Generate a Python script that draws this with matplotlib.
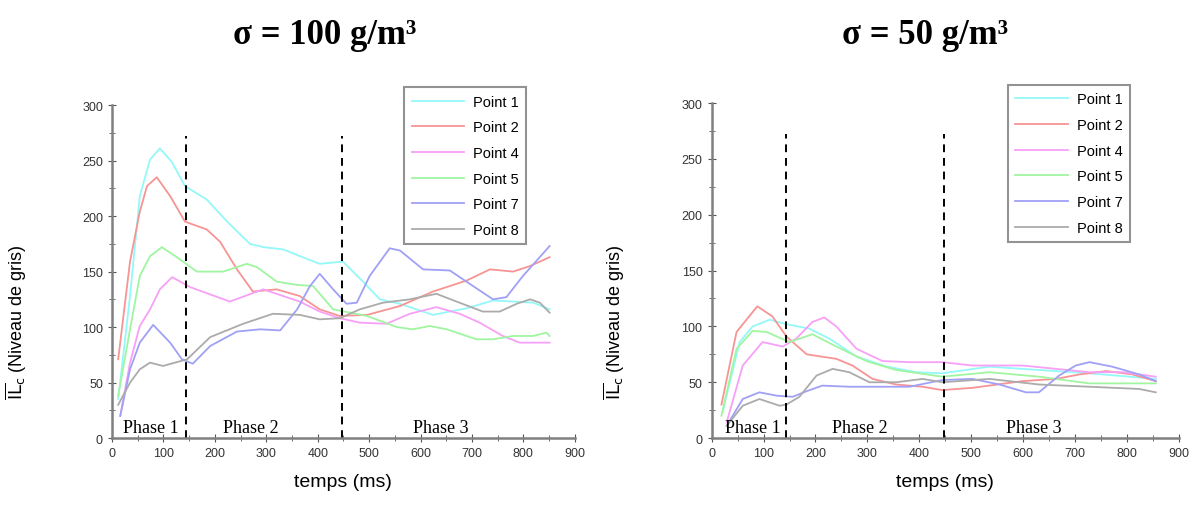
import matplotlib
matplotlib.use("Agg")
import matplotlib.pyplot as plt
from matplotlib.ticker import MultipleLocator

plt.rcParams["font.family"] = ["Liberation Sans", "DejaVu Sans"]

labels = ["Point 1", "Point 2", "Point 4", "Point 5", "Point 7", "Point 8"]
colors = ["#94f8f8", "#f79494", "#f7a0f7", "#a0f5a0", "#a0a0f7", "#ababab"]
titles = ["σ = 100 g/m³", "σ = 50 g/m³"]
phase_names = ["Phase 1", "Phase 2", "Phase 3"]

# sigma = 100 g/m3
t1_x = [12, 35, 54, 74, 93, 116, 142, 184, 224, 268, 295, 333, 365, 404, 449, 488, 521, 560, 624, 690, 741, 819, 851]
t1_y = [35, 128, 218, 251, 261, 249, 227, 215, 195, 175, 172, 170, 164, 157, 159, 141, 125, 121, 111, 117, 124, 122, 116]
t2_x = [12, 35, 54, 68, 87, 113, 142, 184, 210, 243, 274, 320, 365, 404, 443, 496, 560, 624, 690, 735, 780, 813, 851]
t2_y = [71, 159, 204, 227, 235, 218, 195, 188, 177, 152, 132, 134, 128, 116, 110, 111, 119, 132, 142, 152, 150, 155, 163]
t4_x = [16, 35, 54, 74, 93, 117, 152, 229, 294, 365, 404, 443, 482, 534, 579, 631, 676, 715, 760, 793, 851]
t4_y = [20, 68, 101, 116, 134, 145, 136, 123, 134, 123, 114, 108, 104, 103, 112, 118, 112, 104, 92, 86, 86]
t5_x = [12, 35, 54, 74, 97, 126, 165, 216, 262, 282, 320, 360, 391, 430, 496, 554, 585, 618, 651, 709, 741, 780, 819, 845, 851]
t5_y = [38, 98, 146, 164, 172, 163, 150, 150, 157, 154, 141, 138, 137, 116, 110, 100, 98, 101, 98, 89, 89, 92, 92, 95, 92]
t7_x = [16, 35, 54, 80, 113, 136, 157, 191, 243, 288, 327, 360, 385, 404, 430, 456, 476, 501, 540, 560, 605, 657, 702, 741, 767, 799, 851]
t7_y = [20, 62, 86, 102, 86, 71, 67, 83, 96, 98, 97, 116, 137, 148, 134, 121, 122, 146, 171, 169, 152, 151, 137, 125, 127, 146, 173]
t8_x = [12, 35, 54, 74, 99, 146, 191, 255, 313, 365, 404, 443, 482, 527, 579, 631, 670, 721, 754, 787, 813, 832, 851]
t8_y = [30, 50, 62, 68, 65, 71, 91, 103, 112, 111, 107, 108, 116, 122, 125, 130, 123, 114, 114, 121, 125, 122, 113]

# sigma = 50 g/m3
u1_x = [21, 54, 79, 112, 144, 188, 227, 279, 337, 394, 444, 535, 630, 727, 855]
u1_y = [23, 86, 100, 106, 102, 98, 89, 73, 64, 59, 58, 64, 61, 58, 53]
u2_x = [19, 48, 88, 117, 144, 183, 240, 271, 310, 355, 406, 444, 502, 598, 663, 708, 760, 810, 855]
u2_y = [30, 95, 118, 109, 91, 75, 71, 65, 53, 48, 46, 43, 45, 51, 53, 57, 60, 57, 51]
u4_x = [29, 60, 98, 137, 163, 194, 217, 240, 279, 329, 381, 444, 502, 598, 663, 727, 790, 855]
u4_y = [14, 65, 86, 82, 89, 104, 108, 100, 80, 69, 68, 68, 65, 65, 62, 59, 59, 55]
u5_x = [19, 48, 79, 106, 150, 194, 240, 298, 355, 444, 535, 630, 727, 855]
u5_y = [20, 80, 96, 95, 86, 93, 82, 69, 61, 55, 59, 55, 49, 49]
u7_x = [29, 60, 92, 125, 156, 183, 213, 265, 381, 444, 502, 554, 605, 630, 669, 701, 727, 771, 823, 855]
u7_y = [11, 35, 41, 38, 37, 42, 47, 46, 46, 52, 53, 48, 41, 41, 56, 65, 68, 64, 57, 51]
u8_x = [29, 60, 92, 131, 144, 169, 202, 233, 265, 304, 355, 406, 444, 535, 630, 727, 823, 855]
u8_y = [11, 29, 35, 29, 30, 37, 56, 62, 59, 50, 50, 53, 50, 53, 48, 46, 44, 41]

left_series = [(t1_x, t1_y), (t2_x, t2_y), (t4_x, t4_y), (t5_x, t5_y), (t7_x, t7_y), (t8_x, t8_y)]
right_series = [(u1_x, u1_y), (u2_x, u2_y), (u4_x, u4_y), (u5_x, u5_y), (u7_x, u7_y), (u8_x, u8_y)]

phase_bounds = [143, 447]
left_phase_x = [75, 270, 640]
right_phase_x = [80, 285, 620]

fig = plt.figure(figsize=(12.02, 5.10), dpi=100)
ax_l = fig.add_axes([0.0932, 0.139, 0.385, 0.653])
ax_r = fig.add_axes([0.592, 0.139, 0.389, 0.657])

for ax, series, title, px, tx in [(ax_l, left_series, titles[0], left_phase_x, 0.27),
                                   (ax_r, right_series, titles[1], right_phase_x, 0.77)]:
    for (x, y), c, lab in zip(series, colors, labels):
        ax.plot(x, y, color=c, lw=1.3, label=lab, solid_joinstyle="round")
    for b in phase_bounds:
        ax.plot([b, b], [0, 272], color="black", ls=(0, (4, 3)), lw=1.4)
    for name, xx in zip(phase_names, px):
        ax.text(xx, 2, name, ha="center", va="bottom", family="Liberation Serif", fontsize=13)
    ax.set_xlim(0, 900)
    ax.set_ylim(0, 300)
    ax.xaxis.set_major_locator(MultipleLocator(100))
    ax.xaxis.set_minor_locator(MultipleLocator(50))
    ax.yaxis.set_major_locator(MultipleLocator(50))
    ax.yaxis.set_minor_locator(MultipleLocator(25))
    for s in ["top", "right"]:
        ax.spines[s].set_visible(False)
    for s in ["left", "bottom"]:
        ax.spines[s].set_color("#808080")
        ax.spines[s].set_linewidth(1.8)
    ax.tick_params(which="both", direction="inout", color="#555555", labelsize=9, labelcolor="#333333")
    ax.tick_params(which="major", length=6)
    ax.tick_params(which="minor", length=4)
    ax.set_xlabel("temps (ms)", fontsize=14, labelpad=10)
    ax.set_ylabel(r"$\overline{\mathrm{IL}}_{\mathrm{c}}$ (Niveau de gris)", fontsize=13)
    ax.yaxis.set_label_coords(-0.18, 0.35)
    fig.text(tx, 0.93, title, ha="center", va="center", family="Liberation Serif",
             fontsize=25, fontweight="bold")
    leg = ax.legend(loc="upper right", bbox_to_anchor=(0.91, 1.075), fontsize=10.5,
                    frameon=True, fancybox=False, handlelength=3.6, labelspacing=0.8,
                    borderpad=0.5, handletextpad=0.6)
    leg.get_frame().set_edgecolor("#777777")
    leg.get_frame().set_linewidth(1.5)

fig.savefig("out.png", dpi=100)
